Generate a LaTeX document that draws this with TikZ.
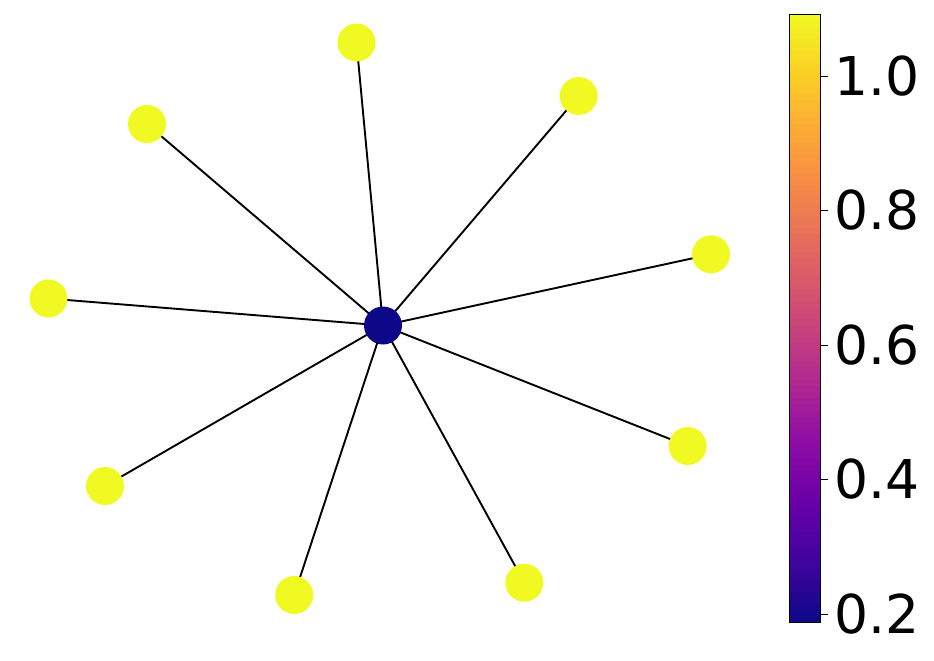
\documentclass[tikz,border=0pt]{standalone}
\usepackage{fontspec}
\setmainfont{DejaVu Sans}
\usetikzlibrary{backgrounds}
\definecolor{pl0}{RGB}{13,8,135}
\definecolor{pl1}{RGB}{65,4,157}
\definecolor{pl2}{RGB}{106,0,168}
\definecolor{pl3}{RGB}{143,13,164}
\definecolor{pl4}{RGB}{177,42,144}
\definecolor{pl5}{RGB}{204,71,120}
\definecolor{pl6}{RGB}{225,100,98}
\definecolor{pl7}{RGB}{242,132,75}
\definecolor{pl8}{RGB}{252,166,54}
\definecolor{pl9}{RGB}{252,206,37}
\definecolor{pl10}{RGB}{240,249,33}
\begin{document}
\begin{tikzpicture}[x=1pt,y=-1pt,
  vertex/.style={circle,minimum size=38pt,inner sep=0pt,draw=none},
  leaf/.style={vertex,fill=pl10},
  hub/.style={vertex,fill=pl0},
  edge/.style={black,line width=1.9pt},
  ticklab/.style={anchor=west,inner sep=0pt,font=\fontsize{53.5}{60}\selectfont}]
\useasboundingbox (0,0) rectangle (934,661);
% graph
\node[hub] (c) at (383,325.5) {};
\node[leaf] (a1) at (356.5,42.5) {};
\node[leaf] (a2) at (578.7,96) {};
\node[leaf] (a3) at (147,124) {};
\node[leaf] (a4) at (711,254.3) {};
\node[leaf] (a5) at (48.5,298.5) {};
\node[leaf] (a6) at (687.7,446) {};
\node[leaf] (a7) at (105,486) {};
\node[leaf] (a8) at (294.2,595) {};
\node[leaf] (a9) at (524.3,582.7) {};
\begin{pgfonlayer}{background}
\foreach \n in {a1,a2,a3,a4,a5,a6,a7,a8,a9}
  \draw[edge] (c.center) -- (\n.center);
\end{pgfonlayer}
% colorbar
\foreach \k in {0,...,9} {
  \pgfmathtruncatemacro\kn{\k+1}
  \foreach \j in {0,...,9} {
    \pgfmathsetmacro\yb{622.7-(10*\k+\j)*6.077}
    \pgfmathsetmacro\yt{\yb-6.077-0.5}
    \pgfmathtruncatemacro\pc{\j*10+5}
    \fill[pl\kn!\pc!pl\k] (789.7,\yb) rectangle (820.3,\yt);
  }
}
\draw[line width=1pt] (789.7,15) rectangle (820.3,622.7);
\foreach \v/\y/\i in {1.0/76/1, 0.8/210.5/2, 0.6/345/3, 0.4/479.5/4, 0.2/614/5} {
  \coordinate (t\i) at (820.3,\y);
  \coordinate (te\i) at (827.7,\y);
  \draw[line width=1pt] (t\i) -- (te\i);
  \node[ticklab] (lab\i) at (834,\y) {\v};
}
\end{tikzpicture}
\end{document}
